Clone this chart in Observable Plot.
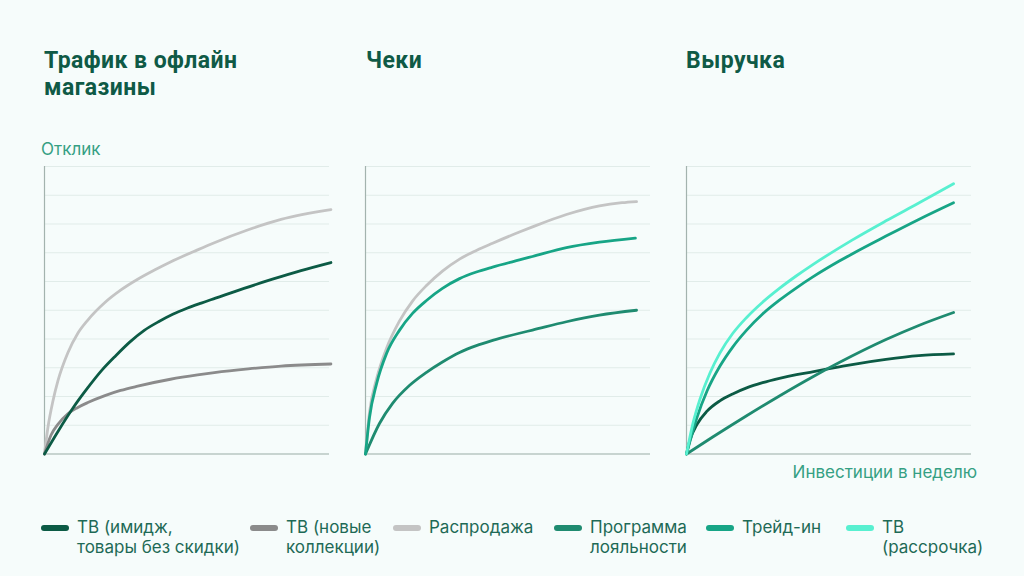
<!DOCTYPE html>
<html>
<head>
<meta charset="utf-8">
<script src="https://cdn.jsdelivr.net/npm/d3@7"></script>
<script src="https://cdn.jsdelivr.net/npm/@observablehq/plot@0.6"></script>
<style>
  html, body { margin: 0; padding: 0; background: #f6fcfb; }
  #root { position: relative; width: 1024px; height: 576px; overflow: hidden; font-family: Inter, "Noto Sans", sans-serif; }
  #chart { position: absolute; left: 0; top: 0; }
  .title { position: absolute; top: 47px; font-family: Roboto, Inter, sans-serif; font-weight: 700; font-size: 23px; line-height: 27px; color: #0f5a46; letter-spacing: 0.45px; }
  .axlabel { position: absolute; font-size: 17px; color: #35a083; line-height: 20px; }
  .legend { position: absolute; top: 517px; left: 0; width: 1024px; height: 50px; }
  .item { position: absolute; top: 0; }
  .sw { position: absolute; top: 8px; width: 28px; height: 6px; border-radius: 3px; }
  .lt { position: absolute; top: 0; left: 36px; white-space: nowrap; font-size: 17px; line-height: 20px; color: #1e6a56; }
</style>
</head>
<body>
<div id="root">
  <div id="chart"></div>
</div>
<script>
// Panels (facets) and titles
const panels = ["Трафик", "Чеки", "Выручка"];
const panelTitles = ["Трафик в офлайн<br>магазины", "Чеки", "Выручка"];

// Series names (legend order) and colours
const seriesNames = ["ТВ (имидж,<br>товары без скидки)", "ТВ (новые<br>коллекции)", "Распродажа", "Программа<br>лояльности", "Трейд-ин", "ТВ<br>(рассрочка)"];
const seriesKeys = ["image", "newcoll", "sale", "loyalty", "tradein", "installment"];
const seriesColors = ["#0c5b45", "#8b8b8b", "#c4c4c4", "#1f8b70", "#17a586", "#58f0d0"];

// Panel 1: Трафик в офлайн магазины  [investment, response]
const trafficSale = [[0,0],[0.12,0.92],[0.3,1.86],[0.47,2.54],[0.82,3.52],[1.17,4.2],[1.52,4.66],[2.12,5.27],[2.67,5.7],[3.27,6.08],[3.86,6.4],[4.42,6.68],[5.37,7.1],[5.96,7.35],[7.15,7.8],[8.3,8.16],[10.05,8.5]];
const trafficNewColl = [[0,0],[0.23,0.66],[0.47,1.03],[0.82,1.4],[1.17,1.62],[1.52,1.79],[2.12,2.03],[2.67,2.21],[3.27,2.36],[4.42,2.6],[5.37,2.75],[5.96,2.83],[7.15,2.96],[8.3,3.06],[10.05,3.13]];
const trafficImage = [[0,0],[0.5,0.83],[1,1.6],[1.5,2.28],[2,2.9],[2.5,3.42],[3,3.9],[3.5,4.3],[4,4.6],[4.5,4.86],[5,5.07],[5.5,5.25],[6,5.42],[7,5.76],[8,6.08],[9,6.38],[10.05,6.66]];

// Panel 2: Чеки
const checksSale = [[0,0],[0.14,1.45],[0.39,2.62],[0.74,3.68],[1.19,4.62],[1.65,5.32],[2.14,5.86],[2.7,6.36],[3.3,6.78],[3.89,7.08],[4.46,7.33],[5.4,7.72],[5.86,7.9],[7.05,8.33],[8.21,8.63],[9.0,8.74],[9.51,8.78]];
const checksTradeIn = [[0,0],[0.14,1.27],[0.39,2.45],[0.74,3.5],[1.19,4.3],[1.65,4.89],[2.14,5.34],[2.7,5.76],[3.3,6.1],[3.89,6.33],[4.46,6.5],[5.4,6.75],[5.86,6.87],[7.05,7.18],[8.21,7.37],[9.47,7.51]];
const checksLoyalty = [[0,0],[0.49,1.06],[0.95,1.76],[1.54,2.38],[2.14,2.84],[2.7,3.2],[3.3,3.53],[3.89,3.77],[4.46,3.95],[5.4,4.2],[5.86,4.31],[7.05,4.6],[8.21,4.83],[9.51,5.0]];

// Panel 3: Выручка
const revenueInstallment = [[0,0],[0.23,1.08],[0.47,1.9],[0.82,2.81],[1.17,3.51],[1.62,4.19],[2.11,4.75],[2.67,5.28],[3.26,5.76],[3.86,6.2],[4.42,6.58],[5.36,7.17],[5.81,7.44],[7.0,8.11],[8.15,8.73],[9.37,9.4]];
const revenueTradeIn = [[0,0],[0.37,1.28],[0.72,2.19],[1.17,3.05],[1.62,3.72],[2.11,4.31],[2.67,4.87],[3.26,5.35],[3.86,5.78],[4.42,6.15],[5.36,6.71],[5.81,6.96],[7.0,7.58],[8.15,8.16],[9.37,8.74]];
const revenueImage = [[0,0],[0.12,0.48],[0.37,1.03],[0.72,1.49],[1.17,1.85],[1.62,2.09],[2.11,2.3],[2.67,2.48],[3.26,2.63],[3.86,2.76],[4.42,2.86],[5.36,3.03],[5.81,3.11],[7.0,3.29],[8.15,3.42],[9.37,3.48]];
const revenueLoyalty = [[0,0],[0.92,0.59],[2.11,1.33],[3.26,2.02],[4.42,2.68],[5.36,3.18],[7.0,3.98],[8.15,4.47],[9.37,4.92]];

const gridTicks = [0,1,2,3,4,5,6,7,8,9,10];

// Build table (drawing order)
const sources = [
  ["Трафик", "sale", trafficSale],
  ["Трафик", "newcoll", trafficNewColl],
  ["Трафик", "image", trafficImage],
  ["Чеки", "sale", checksSale],
  ["Чеки", "loyalty", checksLoyalty],
  ["Чеки", "tradein", checksTradeIn],
  ["Выручка", "image", revenueImage],
  ["Выручка", "loyalty", revenueLoyalty],
  ["Выручка", "tradein", revenueTradeIn],
  ["Выручка", "installment", revenueInstallment]
];
const rows = [];
for (const [panel, series, pts] of sources) {
  for (const [x, y] of pts) rows.push({panel, series, key: panel + "-" + series, x, y});
}

const chart = Plot.plot({
  width: 1024,
  height: 490,
  marginLeft: 42.5,
  marginRight: 51.5,
  marginTop: 166,
  marginBottom: 36.5,
  style: {background: "transparent", overflow: "visible"},
  fx: {domain: panels, axis: null, paddingInner: 0.1118, paddingOuter: 0},
  x: {domain: [0, 10], axis: null},
  y: {domain: [0, 10], axis: null},
  color: {domain: seriesKeys, range: seriesColors},
  marks: [
    Plot.gridY(gridTicks, {stroke: "#e1ece9", strokeOpacity: 1, strokeWidth: 1}),
    Plot.ruleY([0], {stroke: "#a3b3ae", strokeWidth: 1.2}),
    Plot.ruleX([0], {stroke: "#a3b3ae", strokeWidth: 1.2}),
    Plot.line(rows, {fx: "panel", x: "x", y: "y", z: "key", stroke: "series", strokeWidth: 2.8, strokeLinecap: "round", strokeLinejoin: "round", curve: "monotone-x"})
  ]
});
const root = document.getElementById("root");
document.getElementById("chart").appendChild(chart);

// Titles
const titleX = [44, 366, 686];
panelTitles.forEach((t, i) => {
  const d = document.createElement("div");
  d.className = "title";
  d.style.left = titleX[i] + "px";
  d.innerHTML = t;
  root.appendChild(d);
});

// Axis labels
const yl = document.createElement("div");
yl.className = "axlabel"; yl.style.left = "41px"; yl.style.top = "139px"; yl.textContent = "Отклик";
root.appendChild(yl);
const xl = document.createElement("div");
xl.className = "axlabel"; xl.style.right = (1024 - 977) + "px"; xl.style.top = "462px"; xl.textContent = "Инвестиции в неделю";
root.appendChild(xl);

// Legend
const legendX = [41, 250, 393, 554, 706, 846];
const legend = document.createElement("div");
legend.className = "legend";
seriesNames.forEach((name, i) => {
  const it = document.createElement("div");
  it.className = "item";
  it.style.left = legendX[i] + "px";
  it.innerHTML = `<div class="sw" style="background:${seriesColors[i]}"></div><div class="lt">${name}</div>`;
  legend.appendChild(it);
});
root.appendChild(legend);
</script>
</body>
</html>
